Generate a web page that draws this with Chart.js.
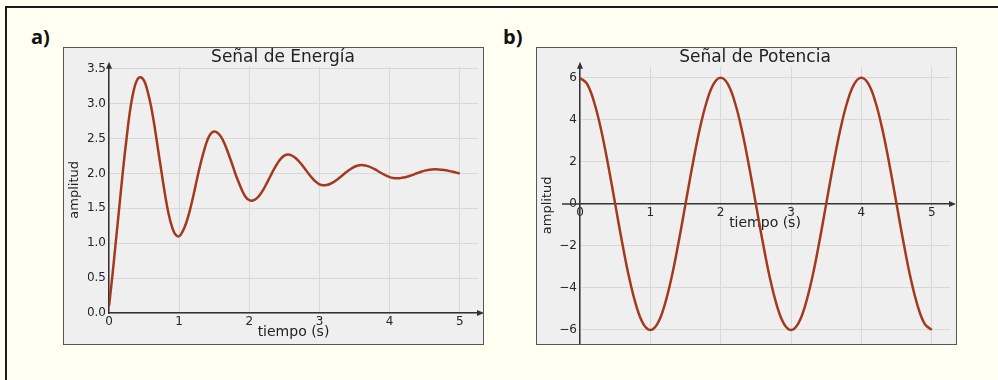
<!DOCTYPE html>
<html>
<head>
<meta charset="utf-8">
<script src="https://cdn.jsdelivr.net/npm/chart.js"></script>
<style>
  body { margin: 0; background: #fffff2; width: 998px; height: 380px; overflow: hidden; position: relative; }
  .marco { position: absolute; left: 5px; top: 6px; width: 1010px; height: 400px; border-left: 2px solid #1a1a1a; border-top: 2px solid #1a1a1a; }
  .tag { position: absolute; top: 23px; font: bold 20px "Open Sans", sans-serif; color: #111; }
  .caja { position: absolute; top: 47px; width: 419px; height: 296px; border: 1px solid #555; background: #efefef; }
</style>
</head>
<body>
<div class="marco"></div>
<div class="tag" style="left:31px">a)</div>
<div class="tag" style="left:503px">b)</div>
<div class="caja" style="left:63px"><canvas id="energia"></canvas></div>
<div class="caja" style="left:536px"><canvas id="potencia"></canvas></div>
<script>
const tiempoE = [0, 0.05, 0.1, 0.15, 0.2, 0.25, 0.3, 0.35, 0.4, 0.45, 0.5, 0.55, 0.6, 0.65, 0.7, 0.75, 0.8, 0.85, 0.9, 0.95,
  1, 1.05, 1.1, 1.15, 1.2, 1.25, 1.3, 1.35, 1.4, 1.45, 1.5, 1.55, 1.6, 1.65, 1.7, 1.75, 1.8, 1.85, 1.9, 1.95,
  2, 2.05, 2.1, 2.15, 2.2, 2.25, 2.3, 2.35, 2.4, 2.45, 2.5, 2.55, 2.6, 2.65, 2.7, 2.75, 2.8, 2.85, 2.9, 2.95,
  3, 3.05, 3.1, 3.15, 3.2, 3.25, 3.3, 3.35, 3.4, 3.45, 3.5, 3.55, 3.6, 3.65, 3.7, 3.75, 3.8, 3.85, 3.9, 3.95,
  4, 4.05, 4.1, 4.15, 4.2, 4.25, 4.3, 4.35, 4.4, 4.45, 4.5, 4.55, 4.6, 4.65, 4.7, 4.75, 4.8, 4.85, 4.9, 4.95, 5];
const energia = [0.10, 0.55, 1.05, 1.55, 2.05, 2.50, 2.90, 3.18, 3.34, 3.38, 3.33, 3.18, 2.96, 2.67, 2.34, 2.01, 1.69, 1.42, 1.23, 1.12,
  1.10, 1.17, 1.29, 1.46, 1.67, 1.90, 2.12, 2.31, 2.47, 2.57, 2.60, 2.58, 2.52, 2.42, 2.29, 2.15, 2.00, 1.87, 1.75, 1.66,
  1.617, 1.612, 1.639, 1.693, 1.769, 1.861, 1.960, 2.057, 2.143, 2.212, 2.255, 2.27, 2.260, 2.230, 2.182, 2.123, 2.057, 1.990, 1.929, 1.879,
  1.845, 1.830, 1.834, 1.849, 1.875, 1.910, 1.950, 1.992, 2.032, 2.068, 2.096, 2.114, 2.12, 2.115, 2.102, 2.081, 2.054, 2.025, 1.996, 1.969,
  1.948, 1.935, 1.930, 1.933, 1.941, 1.953, 1.969, 1.987, 2.006, 2.024, 2.040, 2.051, 2.058, 2.060, 2.058, 2.053, 2.045, 2.035, 2.024, 2.012, 2.000];

const tiempoP = [0, 0.1, 0.2, 0.3, 0.4, 0.5, 0.6, 0.7, 0.8, 0.9, 1, 1.1, 1.2, 1.3, 1.4, 1.5, 1.6, 1.7, 1.8, 1.9,
  2, 2.1, 2.2, 2.3, 2.4, 2.5, 2.6, 2.7, 2.8, 2.9, 3, 3.1, 3.2, 3.3, 3.4, 3.5, 3.6, 3.7, 3.8, 3.9,
  4, 4.1, 4.2, 4.3, 4.4, 4.5, 4.6, 4.7, 4.8, 4.9, 5];
const potencia = [6, 5.71, 4.85, 3.53, 1.85, 0, -1.85, -3.53, -4.85, -5.71, -6, -5.71, -4.85, -3.53, -1.85, 0, 1.85, 3.53, 4.85, 5.71,
  6, 5.71, 4.85, 3.53, 1.85, 0, -1.85, -3.53, -4.85, -5.71, -6, -5.71, -4.85, -3.53, -1.85, 0, 1.85, 3.53, 4.85, 5.71,
  6, 5.71, 4.85, 3.53, 1.85, 0, -1.85, -3.53, -4.85, -5.71, -6];

const ticksX = [0, 1, 2, 3, 4, 5];
const ticksEnergia = [0, 0.5, 1, 1.5, 2, 2.5, 3, 3.5];
const ticksPotencia = [-6, -4, -2, 0, 2, 4, 6];

Chart.defaults.font.family = "'DejaVu Sans', sans-serif";
Chart.defaults.color = "#262626";

// flechas en los extremos de los ejes
const flechas = {
  id: "flechas",
  afterDraw(chart, args, opts) {
    const { ctx, chartArea: a, scales } = chart;
    const y0 = scales.y.getPixelForValue(0);
    const x0 = a.left;
    ctx.save();
    ctx.strokeStyle = "#333";
    ctx.fillStyle = "#333";
    ctx.lineWidth = 1.5;
    ctx.beginPath();
    ctx.moveTo(a.right, y0);
    ctx.lineTo(a.right + 2, y0);
    ctx.moveTo(x0, a.top);
    ctx.lineTo(x0, a.top - 2);
    if (opts.izq) {
      ctx.moveTo(x0 - opts.izq, y0);
      ctx.lineTo(x0, y0);
    }
    ctx.stroke();
    ctx.beginPath();
    ctx.moveTo(a.right + 6, y0);
    ctx.lineTo(a.right - 1, y0 - 3);
    ctx.lineTo(a.right - 1, y0 + 3);
    ctx.closePath();
    ctx.moveTo(x0, a.top - 5);
    ctx.lineTo(x0 - 3, a.top + 2);
    ctx.lineTo(x0 + 3, a.top + 2);
    ctx.closePath();
    ctx.fill();
    ctx.restore();
  }
};

// despl: corre el título hacia la derecha (el eje y conserva su sitio)
function grafico(id, tiempos, valores, titulo, yMin, yMax, yTicks, fmt, xPos, pad, anchoY, izq, despl) {
  new Chart(document.getElementById(id), {
    type: "line",
    data: {
      datasets: [{
        data: tiempos.map((t, i) => ({ x: t, y: valores[i] })),
        borderColor: "#a43a1d",
        borderWidth: 2.5,
        pointRadius: 0,
        tension: 0.4,
        fill: false
      }]
    },
    options: {
      responsive: true,
      maintainAspectRatio: false,
      animation: false,
      layout: { padding: { left: despl, right: pad.right, top: 0, bottom: pad.bottom } },
      plugins: {
        legend: { display: false },
        tooltip: { enabled: false },
        title: {
          display: true,
          text: titulo,
          color: "#222",
          font: { size: 17, weight: "normal", lineHeight: 1.1 },
          padding: { top: 0, bottom: 0 }
        },
        flechas: { izq: izq }
      },
      scales: {
        x: {
          type: "linear",
          min: 0,
          max: 5.26,
          position: xPos,
          afterFit: (s) => { s.height = 31; s.paddingLeft = 0; s.paddingRight = 0; },
          afterBuildTicks: (s) => { s.ticks = ticksX.map((v) => ({ value: v })); },
          grid: { color: "#d8d8d8", drawTicks: false },
          border: { color: "#333", width: 1.5 },
          ticks: { padding: 2, maxRotation: 0, font: { size: 12 } },
          title: { display: true, text: "tiempo (s)", color: "#222", font: { size: 14 }, padding: { top: 0, bottom: 3 } }
        },
        y: {
          min: yMin,
          max: yMax,
          afterFit: (s) => { s.width = anchoY - despl; s.paddingTop = 0; s.paddingBottom = 0; },
          afterBuildTicks: (s) => { s.ticks = yTicks.map((v) => ({ value: v })); },
          grid: { color: "#d8d8d8", drawTicks: false },
          border: { color: "#333", width: 1.5 },
          ticks: { padding: 3, font: { size: 12 }, callback: fmt },
          title: { display: true, text: "amplitud", color: "#222", font: { size: 13 }, padding: { top: 3 - despl, bottom: 0 } }
        }
      }
    },
    plugins: [flechas]
  });
}

grafico("energia", tiempoE, energia, "Señal de Energía", 0, 3.53, ticksEnergia,
  (v) => v.toFixed(1), "bottom", { right: 5, bottom: 0 }, 45, 0, 24);

grafico("potencia", tiempoP, potencia, "Señal de Potencia", -6.67, 6.53, ticksPotencia,
  (v) => (v < 0 ? "\u2212" + Math.abs(v) : String(v)), { y: 0 }, { right: 6, bottom: -30 }, 43, 18, 23);
</script>
</body>
</html>
